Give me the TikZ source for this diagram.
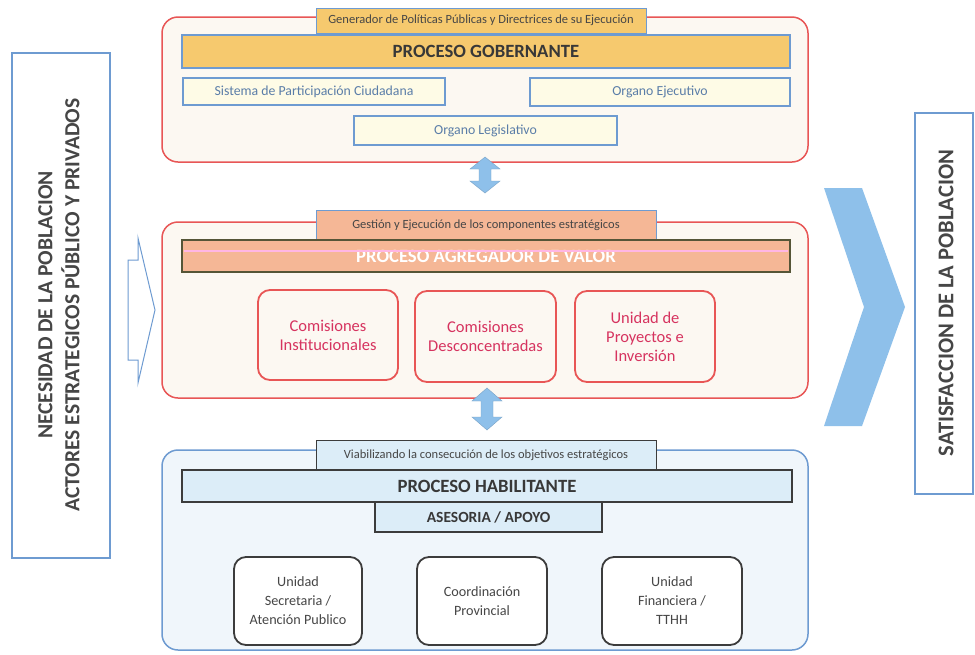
\documentclass[tikz,border=0pt]{standalone}
\usepackage{fontspec}
\setmainfont{Carlito}
\usetikzlibrary{positioning}
\definecolor{redb}{RGB}{232,86,86}
\definecolor{cream}{RGB}{252,248,242}
\definecolor{blueb}{RGB}{110,155,209}
\definecolor{gold}{RGB}{246,201,110}
\definecolor{lyellow}{RGB}{254,251,230}
\definecolor{salmon}{RGB}{245,183,150}
\definecolor{olive}{RGB}{85,85,55}
\definecolor{lblue}{RGB}{220,237,248}
\definecolor{bgblue}{RGB}{240,246,251}
\definecolor{crimson}{RGB}{214,51,95}
\definecolor{arrowblue}{RGB}{142,192,234}
\definecolor{txtgray}{RGB}{70,70,70}
\definecolor{txtblue}{RGB}{90,125,168}
\definecolor{darkb}{RGB}{60,60,60}
\begin{document}
\begin{tikzpicture}[x=1pt,y=-1pt,
  every node/.style={inner sep=0pt, outer sep=0pt},
  container/.style={draw, rounded corners=16pt, line width=1.5pt, anchor=north west},
  tabbox/.style={draw, line width=1pt, anchor=north west, font=\fontsize{12.5}{14}\selectfont, text=txtgray},
  barbox/.style={draw, line width=1.5pt, anchor=north west, font=\fontsize{18.7}{20}\selectfont\bfseries},
  subbox/.style={draw=blueb, fill=lyellow, line width=1.5pt, anchor=north west, font=\fontsize{13.8}{15}\selectfont, text=txtblue},
  redunit/.style={draw=redb, fill=cream, rounded corners=12pt, line width=1.8pt, anchor=north west, align=center, text=crimson, font=\fontsize{16.5}{19}\selectfont},
  grayunit/.style={draw=darkb, fill=white, rounded corners=12pt, line width=1.8pt, anchor=north west, align=center, text=txtgray, font=\fontsize{14.2}{19}\selectfont},
  sidebox/.style={draw=blueb, fill=white, line width=1.5pt, anchor=north west},
  sidetext/.style={rotate=90, align=center, text=txtgray, font=\fontsize{21.5}{27}\selectfont\bfseries},
  blockarrow/.style={fill=arrowblue, draw=arrowblue!85!black, line width=0.4pt}
]
\useasboundingbox (0,0) rectangle (975,654);
\fill[white] (0,0) rectangle (975,654);

% left side
\node[sidebox, minimum width=98pt, minimum height=505pt] (need) at (12,53) {};
\node[sidetext] (needtxt) at (59,305) {NECESIDAD DE LA POBLACION\\ACTORES ESTRATEGICOS PÚBLICO Y PRIVADOS};
\draw[draw=blueb, fill=white, line width=1pt] (128,260) -- (138,260) -- (138,238) -- (155,310) -- (138,383) -- (138,360) -- (128,360) -- cycle;

% right side
\fill[arrowblue] (824,188) -- (862,188) -- (905,307) -- (862,426) -- (824,426) -- (864,307) -- cycle;
\node[sidebox, minimum width=58pt, minimum height=381pt] (sat) at (915,113) {};
\node[sidetext, font=\fontsize{22.5}{27}\selectfont\bfseries] (sattxt) at (946,303) {SATISFACCION DE LA POBLACION};

% top container
\node[container, draw=redb, fill=cream, minimum width=646pt, minimum height=145pt] (gob) at (162,17) {};
\node[tabbox, draw=blueb, fill=gold, minimum width=330pt, minimum height=25pt] (gobtab) at (316,8) {Generador de Políticas Públicas y Directrices de su Ejecución};
\node[barbox, draw=blueb, fill=gold, minimum width=608pt, minimum height=33pt, text=txtgray!80!black] (gobbar) at (182,35) {PROCESO GOBERNANTE};
\node[subbox, minimum width=262pt, minimum height=27pt] (sis) at (183,78) {Sistema de Participación Ciudadana};
\node[subbox, minimum width=260pt, minimum height=28pt] (eje) at (530,78) {Organo Ejecutivo};
\node[subbox, minimum width=263pt, minimum height=29pt] (leg) at (354,116) {Organo Legislativo};

% middle container
\node[container, draw=redb, fill=cream, minimum width=646pt, minimum height=176pt] (agr) at (162,222) {};
\node[tabbox, draw=blueb, fill=salmon, minimum width=340pt, minimum height=30pt] (agrtab) at (316,210) {Gestión y Ejecución de los componentes estratégicos};
\node[barbox, draw=olive, fill=salmon, minimum width=608pt, minimum height=32pt, text=white] (agrbar) at (182,240) {PROCESO AGREGADOR DE VALOR};
\draw[pink!70!magenta!60, line width=1.2pt] (184,251) -- (788,251);
\node[redunit, minimum width=140pt, minimum height=90pt] (ci) at (258,290) {Comisiones\\Institucionales};
\node[redunit, minimum width=141pt, minimum height=91pt] (cd) at (415,291) {Comisiones\\Desconcentradas};
\node[redunit, minimum width=140pt, minimum height=91pt] (up) at (575,291) {Unidad de\\Proyectos e\\Inversión};

% bottom container
\node[container, draw=blueb, fill=bgblue, minimum width=646pt, minimum height=200pt] (hab) at (162,450) {};
\node[tabbox, draw=darkb, fill=lblue, minimum width=340pt, minimum height=30pt] (habtab) at (316,440) {Viabilizando la consecución de los objetivos estratégicos};
\node[barbox, draw=darkb, fill=lblue, minimum width=610pt, minimum height=32pt, text=txtgray!80!black] (habbar) at (182,470) {PROCESO HABILITANTE};
\node[barbox, draw=darkb, fill=lblue, minimum width=227pt, minimum height=30pt, text=txtgray!80!black, font=\fontsize{15.5}{17}\selectfont\bfseries] (ase) at (375,502) {ASESORIA / APOYO};
\node[grayunit, minimum width=128pt, minimum height=88pt] (sec) at (234,557) {Unidad\\Secretaria /\\Atención Publico};
\node[grayunit, minimum width=130pt, minimum height=88pt] (coo) at (417,557) {Coordinación\\Provincial};
\node[grayunit, minimum width=140pt, minimum height=88pt] (fin) at (602,557) {Unidad\\Financiera /\\TTHH};

% double arrows between containers
\draw[blockarrow] (485,157) -- (500,169) -- (491,169) -- (491,181) -- (500,181) -- (485,193) -- (470,181) -- (479,181) -- (479,169) -- (470,169) -- cycle;
\draw[blockarrow] (487,388) -- (502,401) -- (493,401) -- (493,417) -- (502,417) -- (487,430) -- (472,417) -- (481,417) -- (481,401) -- (472,401) -- cycle;
\end{tikzpicture}
\end{document}
